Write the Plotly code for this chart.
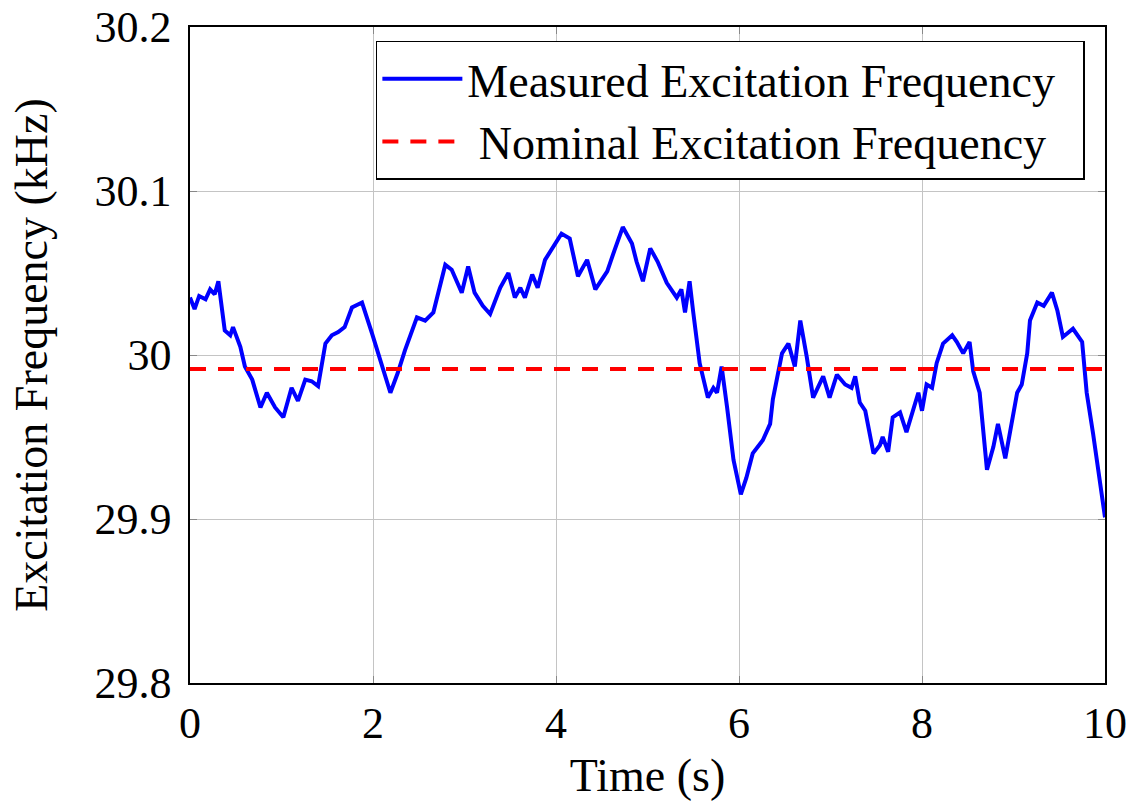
import plotly.graph_objects as go

time_s = [0.00, 0.05, 0.10, 0.17, 0.22, 0.27, 0.31, 0.38, 0.44, 0.47, 0.55, 0.60, 0.68, 0.77, 0.84, 0.93,
          1.02, 1.11, 1.18, 1.26, 1.33, 1.40, 1.48, 1.55, 1.62, 1.69, 1.77, 1.88, 1.99, 2.10, 2.19, 2.27,
          2.35, 2.48, 2.57, 2.66, 2.79, 2.86, 2.97, 3.04, 3.11, 3.20, 3.28, 3.39, 3.48, 3.55, 3.61, 3.66,
          3.74, 3.80, 3.88, 4.06, 4.15, 4.24, 4.34, 4.43, 4.56, 4.64, 4.73, 4.83, 4.88, 4.95, 5.03, 5.11,
          5.21, 5.32, 5.37, 5.41, 5.46, 5.50, 5.57, 5.66, 5.72, 5.76, 5.81, 5.87, 5.94, 6.02, 6.08, 6.15,
          6.26, 6.34, 6.37, 6.47, 6.54, 6.61, 6.67, 6.74, 6.81, 6.92, 6.99, 7.07, 7.16, 7.23, 7.27, 7.32,
          7.38, 7.47, 7.54, 7.57, 7.63, 7.68, 7.76, 7.83, 7.90, 7.96, 8.00, 8.05, 8.11, 8.16, 8.23, 8.33,
          8.38, 8.45, 8.52, 8.56, 8.63, 8.71, 8.78, 8.83, 8.91, 8.96, 9.04, 9.09, 9.15, 9.18, 9.26, 9.33,
          9.42, 9.48, 9.54, 9.65, 9.75, 9.80, 9.87, 10.00]

measured_khz = [30.035, 30.028, 30.036, 30.034, 30.040, 30.037, 30.045, 30.015, 30.012, 30.017, 30.005, 29.993,
                29.985, 29.968, 29.977, 29.968, 29.962, 29.980, 29.972, 29.985, 29.984, 29.981, 30.007, 30.012,
                30.014, 30.017, 30.029, 30.032, 30.013, 29.993, 29.977, 29.989, 30.003, 30.023, 30.021, 30.026,
                30.055, 30.052, 30.038, 30.054, 30.038, 30.030, 30.025, 30.041, 30.050, 30.035, 30.041, 30.035,
                30.049, 30.041, 30.058, 30.074, 30.071, 30.048, 30.058, 30.040, 30.051, 30.064, 30.078, 30.068,
                30.057, 30.045, 30.065, 30.057, 30.044, 30.035, 30.040, 30.026, 30.045, 30.026, 29.995, 29.974,
                29.980, 29.977, 29.993, 29.968, 29.936, 29.915, 29.925, 29.940, 29.948, 29.958, 29.973, 30.001,
                30.007, 29.993, 30.021, 29.999, 29.974, 29.987, 29.974, 29.988, 29.982, 29.980, 29.987, 29.971,
                29.966, 29.940, 29.945, 29.950, 29.941, 29.962, 29.965, 29.953, 29.965, 29.977, 29.966, 29.982,
                29.980, 29.995, 30.007, 30.012, 30.008, 30.001, 30.008, 29.990, 29.977, 29.930, 29.944, 29.958,
                29.937, 29.952, 29.977, 29.982, 30.001, 30.021, 30.032, 30.030, 30.038, 30.027, 30.011, 30.016,
                30.008, 29.977, 29.952, 29.901]

nominal_time = [0.0, 10.0]
nominal_khz = [29.9915, 29.9915]

y_tick_vals = [29.8, 29.9, 30.0, 30.1, 30.2]
y_tick_text = ["29.8", "29.9", "30", "30.1", "30.2"]
x_tick_vals = [0, 2, 4, 6, 8, 10]
x_tick_text = ["0", "2", "4", "6", "8", "10"]

FONT = "Liberation Serif, Times New Roman, serif"

fig = go.Figure()
fig.add_trace(go.Scatter(x=time_s, y=measured_khz, mode="lines",
                         name="Measured Excitation Frequency\u00a0\u00a0",
                         line=dict(color="#0000ff", width=4)))
fig.add_trace(go.Scatter(x=nominal_time, y=nominal_khz, mode="lines",
                         name="\u00a0Nominal Excitation Frequency",
                         line=dict(color="#ff0000", width=4, dash="16px,12px")))

axis_common = dict(showline=True, linecolor="black", linewidth=1.5, mirror="ticks",
                   showgrid=True, gridcolor="#c4c4c4", gridwidth=1,
                   ticks="inside", ticklen=7, tickcolor="#888888", tickwidth=1,
                   zeroline=False, automargin=False, ticklabeloverflow="allow",
                   tickfont=dict(family=FONT, size=44, color="black"))

fig.update_xaxes(range=[0, 10], tickvals=x_tick_vals, ticktext=x_tick_text,
                 title=dict(text="Time (s)", font=dict(family=FONT, size=46, color="black"), standoff=17),
                 **axis_common)
fig.update_yaxes(range=[29.8, 30.2], tickvals=y_tick_vals, ticktext=y_tick_text,
                 ticklabelstandoff=8,
                 title=dict(text="Excitation Frequency (kHz)", font=dict(family=FONT, size=46, color="black"), standoff=32),
                 **axis_common)

fig.update_layout(
    width=1131, height=801,
    margin=dict(l=190, r=26, t=27, b=118),
    paper_bgcolor="white", plot_bgcolor="white",
    font=dict(family=FONT, size=44, color="black"),
    legend=dict(x=0.978, y=0.979, xanchor="right", yanchor="top",
                bgcolor="white", bordercolor="black", borderwidth=1.5,
                font=dict(family=FONT, size=46, color="black"),
                itemwidth=80, tracegroupgap=0),
)

fig.write_html("out.html", config={"displayModeBar": False},
               post_script="document.body.style.margin='0';document.body.style.overflow='hidden';")
